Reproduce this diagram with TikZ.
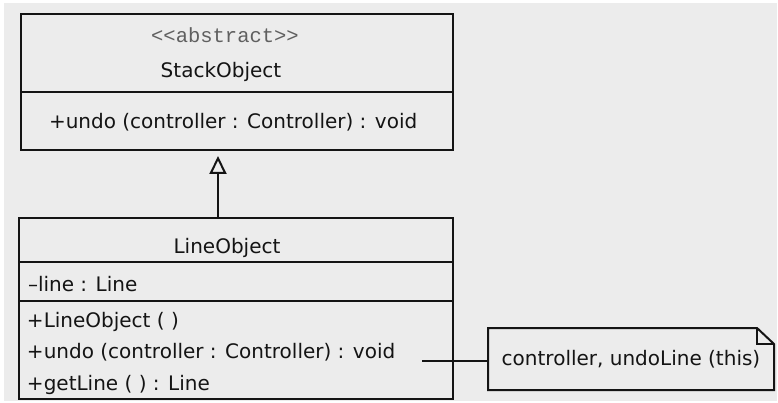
\documentclass[tikz,border=0pt]{standalone}
\usepackage{fontspec}
\setmainfont{DejaVu Sans}
\newfontfamily\stereofont{Liberation Mono}
\usepackage{xcolor}
\usepackage{tikz}
\usetikzlibrary{calc}
\usetikzlibrary{arrows.meta}
\definecolor{uml-bg}{RGB}{236, 236, 236}
\definecolor{uml-ink}{RGB}{20, 20, 20}
\definecolor{uml-gray}{RGB}{96, 96, 96}

\begin{document}
\begin{tikzpicture}[x=1pt, y=-1pt, line width=2pt, draw=uml-ink,
    classbox/.style={draw, inner sep=0pt},
    txt/.style={inner sep=0pt, text=uml-ink, font=\fontsize{20}{24}\selectfont},
    inherit/.style={-{Triangle[open, length=18pt, width=17pt]}, shorten >=5pt}]
          \useasboundingbox (0, 0) rectangle (778, 403);
          \fill[uml-bg] (4, 3) rectangle (777, 401);

          \node[classbox, minimum width=432pt, minimum height=136pt] (stack) at (237, 82) {};
          \draw (stack.west |- 0, 92) -- (stack.east |- 0, 92);
          \node[txt, anchor=base, text=uml-gray, font=\stereofont\fontsize{20.5}{24}\selectfont] (stereo) at (225, 43)
            {\mbox{<}\mbox{<}abstract\mbox{>}\mbox{>}};
          \node[txt, anchor=base] (stackname) at (221, 77.5) {StackObject};
          \node[txt, anchor=base west] (stackundo) at (48, 129) {+undo (controller : Controller) : void};

          \node[classbox, minimum width=434pt, minimum height=181pt] (line) at (236, 308.5) {};
          \draw (line.west |- 0, 262) -- (line.east |- 0, 262);
          \draw (line.west |- 0, 301) -- (line.east |- 0, 301);
          \node[txt, anchor=base] (linename) at (227, 253.3) {LineObject};
          \node[txt, anchor=base west] (lineattr) at (27, 291.7) {–line : Line};
          \node[txt, anchor=base west] (linector) at (26, 327) {+LineObject ( )};
          \node[txt, anchor=base west] (lineundo) at (26, 358) {+undo (controller : Controller) : void};
          \node[txt, anchor=base west] (lineget) at (26, 390) {+getLine ( ) : Line};

          \draw[inherit] ([xshift=-18pt]line.north) -- ([xshift=-18pt]line.north |- stack.south);

          \node[txt, minimum width=284pt, minimum height=60pt] (note) at (631, 359) {controller, undoLine (this)};
          \draw (note.north west) -- ([xshift=-17pt]note.north east) -- ([yshift=-16pt]note.north east)
            -- (note.south east) -- (note.south west) -- cycle;
          \draw ([xshift=-17pt]note.north east) |- ([yshift=-16pt]note.north east);

          \coordinate (undoend) at (422, 361);
          \draw (undoend) -- (undoend -| note.west);
        \end{tikzpicture}
\end{document}
